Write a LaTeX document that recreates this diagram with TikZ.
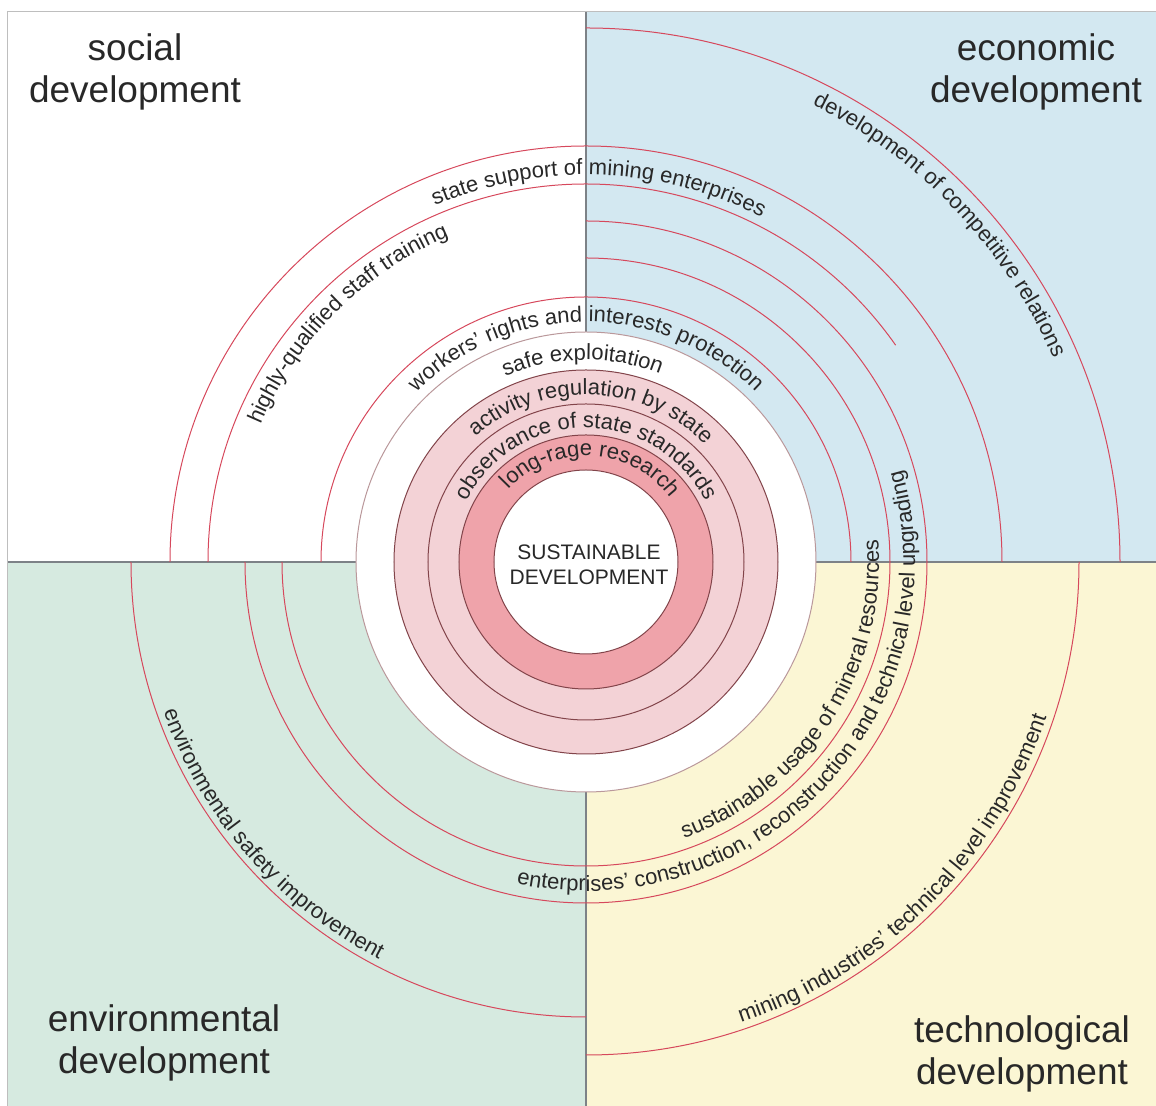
\documentclass[tikz,border=0pt]{standalone}
\usepackage{fontspec}
\setmainfont{Liberation Sans}
\usetikzlibrary{decorations.text}

\definecolor{econblue}{RGB}{211,232,241}
\definecolor{envgreen}{RGB}{214,234,224}
\definecolor{techyellow}{RGB}{251,246,212}
\definecolor{arcred}{RGB}{214,72,92}
\definecolor{ringline}{RGB}{130,68,74}
\definecolor{ringdark}{RGB}{239,163,170}
\definecolor{ringlight}{RGB}{243,210,214}
\definecolor{divgrey}{RGB}{125,130,135}
\definecolor{framegrey}{RGB}{190,190,190}
\definecolor{txtgrey}{RGB}{40,40,40}

\newcommand{\arcfont}{\fontsize{11}{13}\selectfont}

\begin{document}
\begin{tikzpicture}[
    x=0.5pt, y=0.5pt,
    title/.style={align=center, text=txtgrey, font=\fontsize{18.5}{21}\selectfont},
    arcline/.style={draw=arcred, line width=0.5pt},
    ringedge/.style={draw=ringline, line width=0.5pt},
    divider/.style={draw=divgrey, line width=0.8pt},
    arclabel/.style={decorate, decoration={text along path, text align=center,
        text={|\arcfont\color{txtgrey}|#1}}},
  ]
  \useasboundingbox (-586,-544) rectangle (570,562);

  % quadrant panels
  \fill[econblue] (0,0) rectangle (570,550);
  \fill[envgreen] (-578,-544) rectangle (0,0);
  \fill[techyellow] (0,-544) rectangle (570,0);
  \draw[framegrey, line width=0.5pt] (-578,-544) -- (-578,550) -- (570,550);
  \draw[divider] (0,550) -- (0,-544);
  \draw[divider] (-578,0) -- (570,0);

  % factor arcs
  \draw[arcline] (-265,0) arc[start angle=180, end angle=0, radius=265];
  \draw[arcline] (-304,0) arc[start angle=180, end angle=450, radius=304];
  \draw[arcline] (-341,0) arc[start angle=180, end angle=450, radius=341];
  \draw[arcline] (-378,0) arc[start angle=180, end angle=35, radius=378];
  \draw[arcline] (-416,0) arc[start angle=180, end angle=0, radius=416];
  \draw[arcline] (0,534) arc[start angle=90, end angle=0, radius=534];
  \draw[arcline] (-455,0) arc[start angle=180, end angle=270, radius=455];
  \draw[arcline] (0,-493) arc[start angle=270, end angle=360, radius=493];

  % central rings
  \draw[draw=ringline!55, line width=0.5pt, fill=white] (0,0) circle[radius=230];
  \draw[ringedge, fill=ringlight] (0,0) circle[radius=192];
  \draw[ringedge, fill=ringlight] (0,0) circle[radius=158];
  \draw[ringedge, fill=ringdark] (0,0) circle[radius=127];
  \draw[ringedge, fill=white] (0,0) circle[radius=92];
  \node[text=txtgrey, align=center, font=\fontsize{10.5}{12.5}\selectfont] (core) at (3,-3) {SUSTAINABLE\\DEVELOPMENT};

  % labels on the arcs, top half
  \path[arclabel={state support of mining enterprises}] (163:387) arc[start angle=163, end angle=13, radius=387];
  \path[arclabel={highly-qualified staff training}] (210:353) arc[start angle=210, end angle=60, radius=353];
  \path[arclabel={workers' rights and interests protection}] (165:240) arc[start angle=165, end angle=15, radius=240];
  \path[arclabel={safe exploitation}] (166:202) arc[start angle=166, end angle=16, radius=202];
  \path[arclabel={activity regulation by state}] (163:167) arc[start angle=163, end angle=13, radius=167];
  \path[arclabel={observance of state standards}] (170:134) arc[start angle=170, end angle=10, radius=134];
  \path[arclabel={long-rage research}] (167:106) arc[start angle=167, end angle=7, radius=106];
  \path[arclabel={development of competitive relations}] (118.6:510) arc[start angle=118.6, end angle=-31.4, radius=510];

  % labels on the arcs, bottom half
  \path[arclabel={sustainable usage of mineral resources}] (-108:293) arc[start angle=-108, end angle=42, radius=293];
  \path[arclabel={enterprises' construction, reconstruction and technical level upgrading}] (-118:329) arc[start angle=-118, end angle=32, radius=329];
  \path[arclabel={mining industries' technical level improvement}] (-120:486) arc[start angle=-120, end angle=30, radius=486];
  \path[arclabel={environmental safety improvement}] (146:448) arc[start angle=146, end angle=296, radius=448];

  % quadrant titles
  \node[title] (social) at (-451,490) {social\\development};
  \node[title] (economic) at (450,490) {economic\\development};
  \node[title] (environmental) at (-422,-481) {environmental\\development};
  \node[title] (technological) at (436,-492) {technological\\development};

\end{tikzpicture}
\end{document}
